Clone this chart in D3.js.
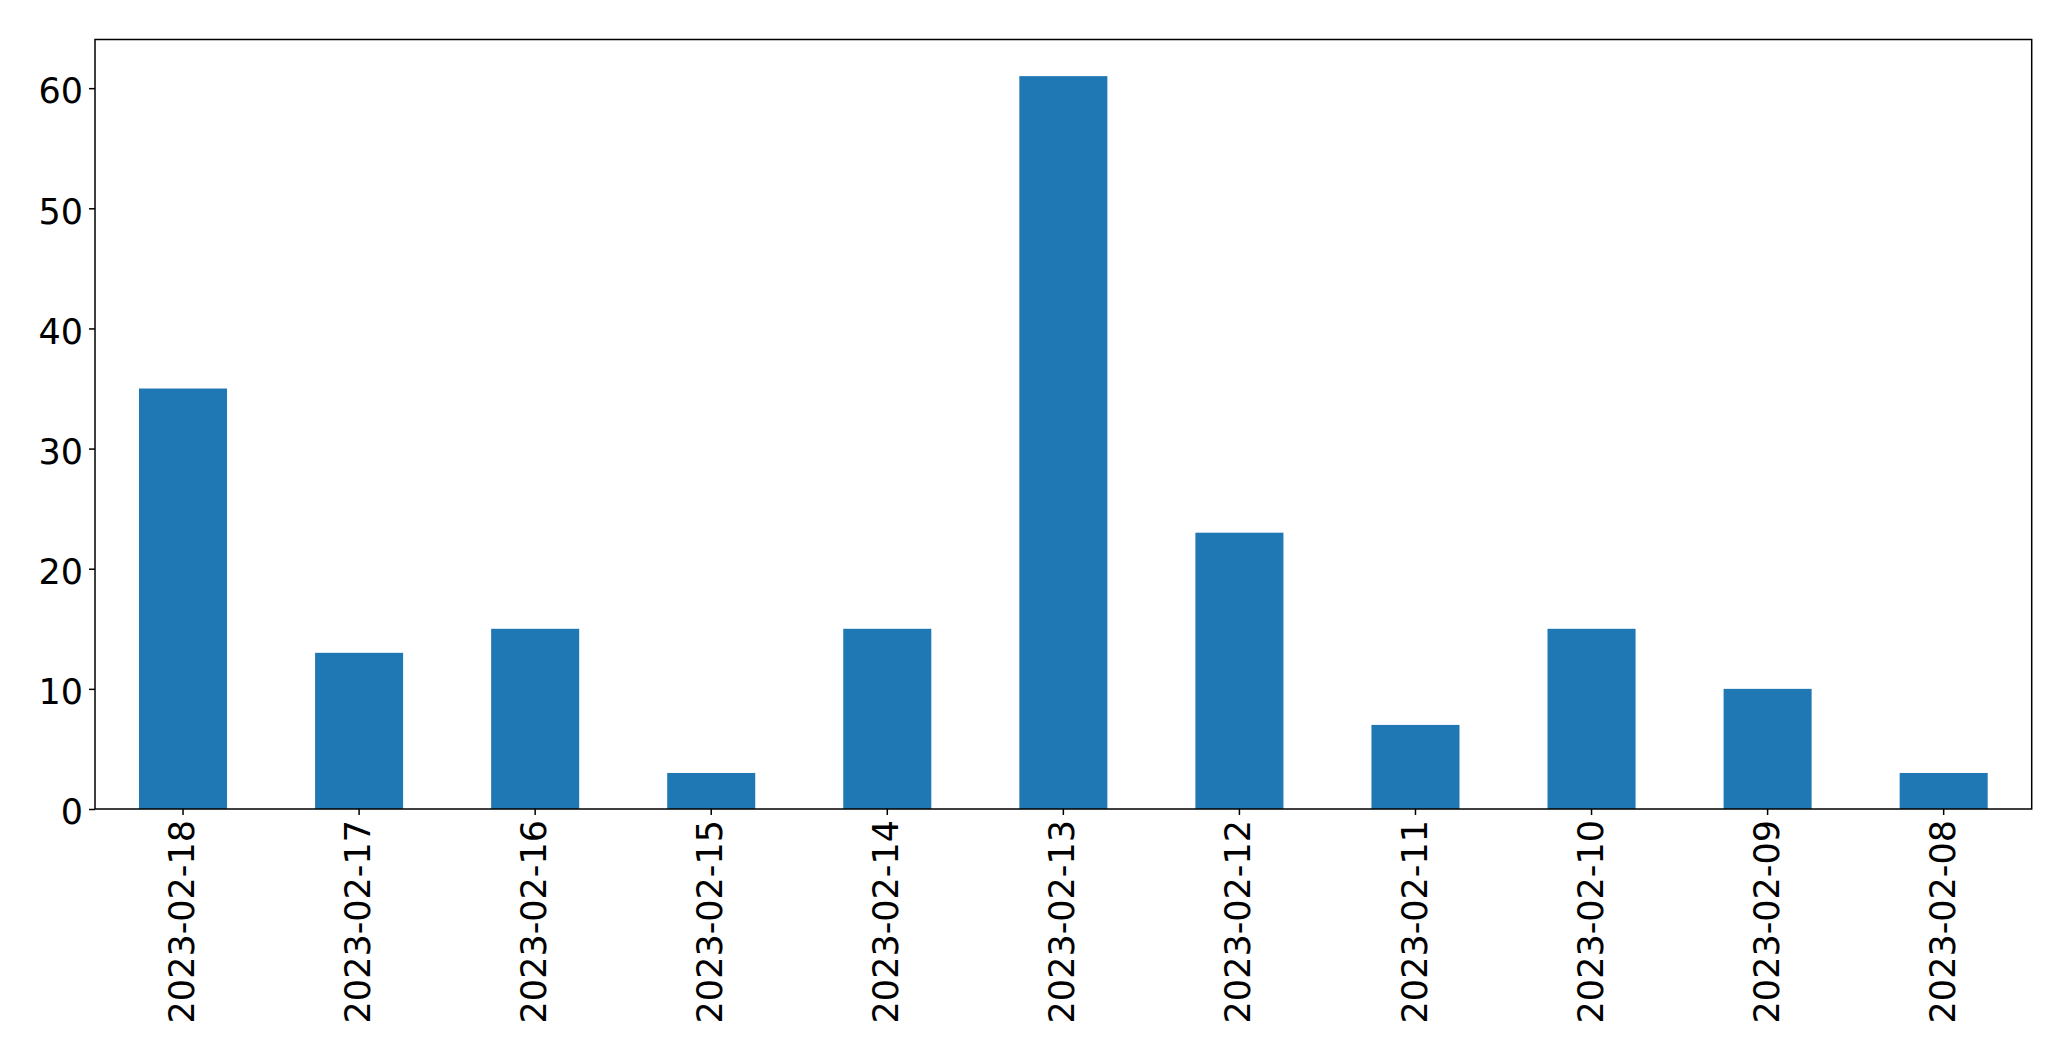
<!DOCTYPE html>
<html>
<head>
<meta charset="utf-8">
<script src="https://cdn.jsdelivr.net/npm/d3@7"></script>
<style>
  html, body { margin: 0; padding: 0; background: #fff; }
  svg { display: block; }
  text { font-family: "DejaVu Sans", sans-serif; fill: #000; }
</style>
</head>
<body>
<svg id="chart" width="2071" height="1061"></svg>
<script>
const categories = ["2023-02-18","2023-02-17","2023-02-16","2023-02-15","2023-02-14","2023-02-13","2023-02-12","2023-02-11","2023-02-10","2023-02-09","2023-02-08"];
const values = [35, 13, 15, 3, 15, 61, 23, 7, 15, 10, 3];
const yTicks = [0, 10, 20, 30, 40, 50, 60];

const W = 2071, H = 1061;
const margin = { left: 95, right: 2031.7, top: 39.5, bottom: 809 };
const fontSize = 35;
const tickLen = 6;

const svg = d3.select("#chart");

const x = d3.scaleBand()
  .domain(categories)
  .range([margin.left, margin.right])
  .paddingInner(0.5)
  .paddingOuter(0.25);

const yMax = d3.max(values) * 1.05;
const y = d3.scaleLinear().domain([0, yMax]).range([margin.bottom, margin.top]);

// bars
svg.append("g").selectAll("rect")
  .data(values)
  .join("rect")
  .attr("x", (d, i) => x(categories[i]))
  .attr("width", x.bandwidth())
  .attr("y", d => y(d))
  .attr("height", d => y(0) - y(d))
  .attr("fill", "#1f77b4");

// y axis
const yAxis = d3.axisLeft(y).tickValues(yTicks).tickSize(tickLen).tickPadding(7).tickFormat(d3.format("d"));
const gy = svg.append("g").attr("transform", `translate(${margin.left},0)`).call(yAxis);
gy.select(".domain").remove();
gy.selectAll(".tick line").attr("stroke", "#000").attr("stroke-width", 1.5);
gy.selectAll(".tick text")
  .attr("font-size", fontSize)
  .attr("font-family", "DejaVu Sans")
  .attr("dy", "0.42em")
  .attr("x", -(tickLen + 6));

// x axis
const xAxis = d3.axisBottom(x).tickSize(tickLen).tickPadding(0);
const gx = svg.append("g").attr("transform", `translate(0,${margin.bottom})`).call(xAxis);
gx.select(".domain").remove();
gx.selectAll(".tick line").attr("stroke", "#000").attr("stroke-width", 1.5);
gx.selectAll(".tick text")
  .attr("font-size", fontSize)
  .attr("font-family", "DejaVu Sans")
  .attr("text-anchor", "end")
  .attr("y", 0)
  .attr("transform", "translate(-0.5, 11) rotate(-90)")
  .attr("dy", "0.33em");

// frame
svg.append("rect")
  .attr("x", margin.left)
  .attr("y", margin.top)
  .attr("width", margin.right - margin.left)
  .attr("height", margin.bottom - margin.top)
  .attr("fill", "none")
  .attr("stroke", "#000")
  .attr("stroke-width", 1.5);
</script>
</body>
</html>
